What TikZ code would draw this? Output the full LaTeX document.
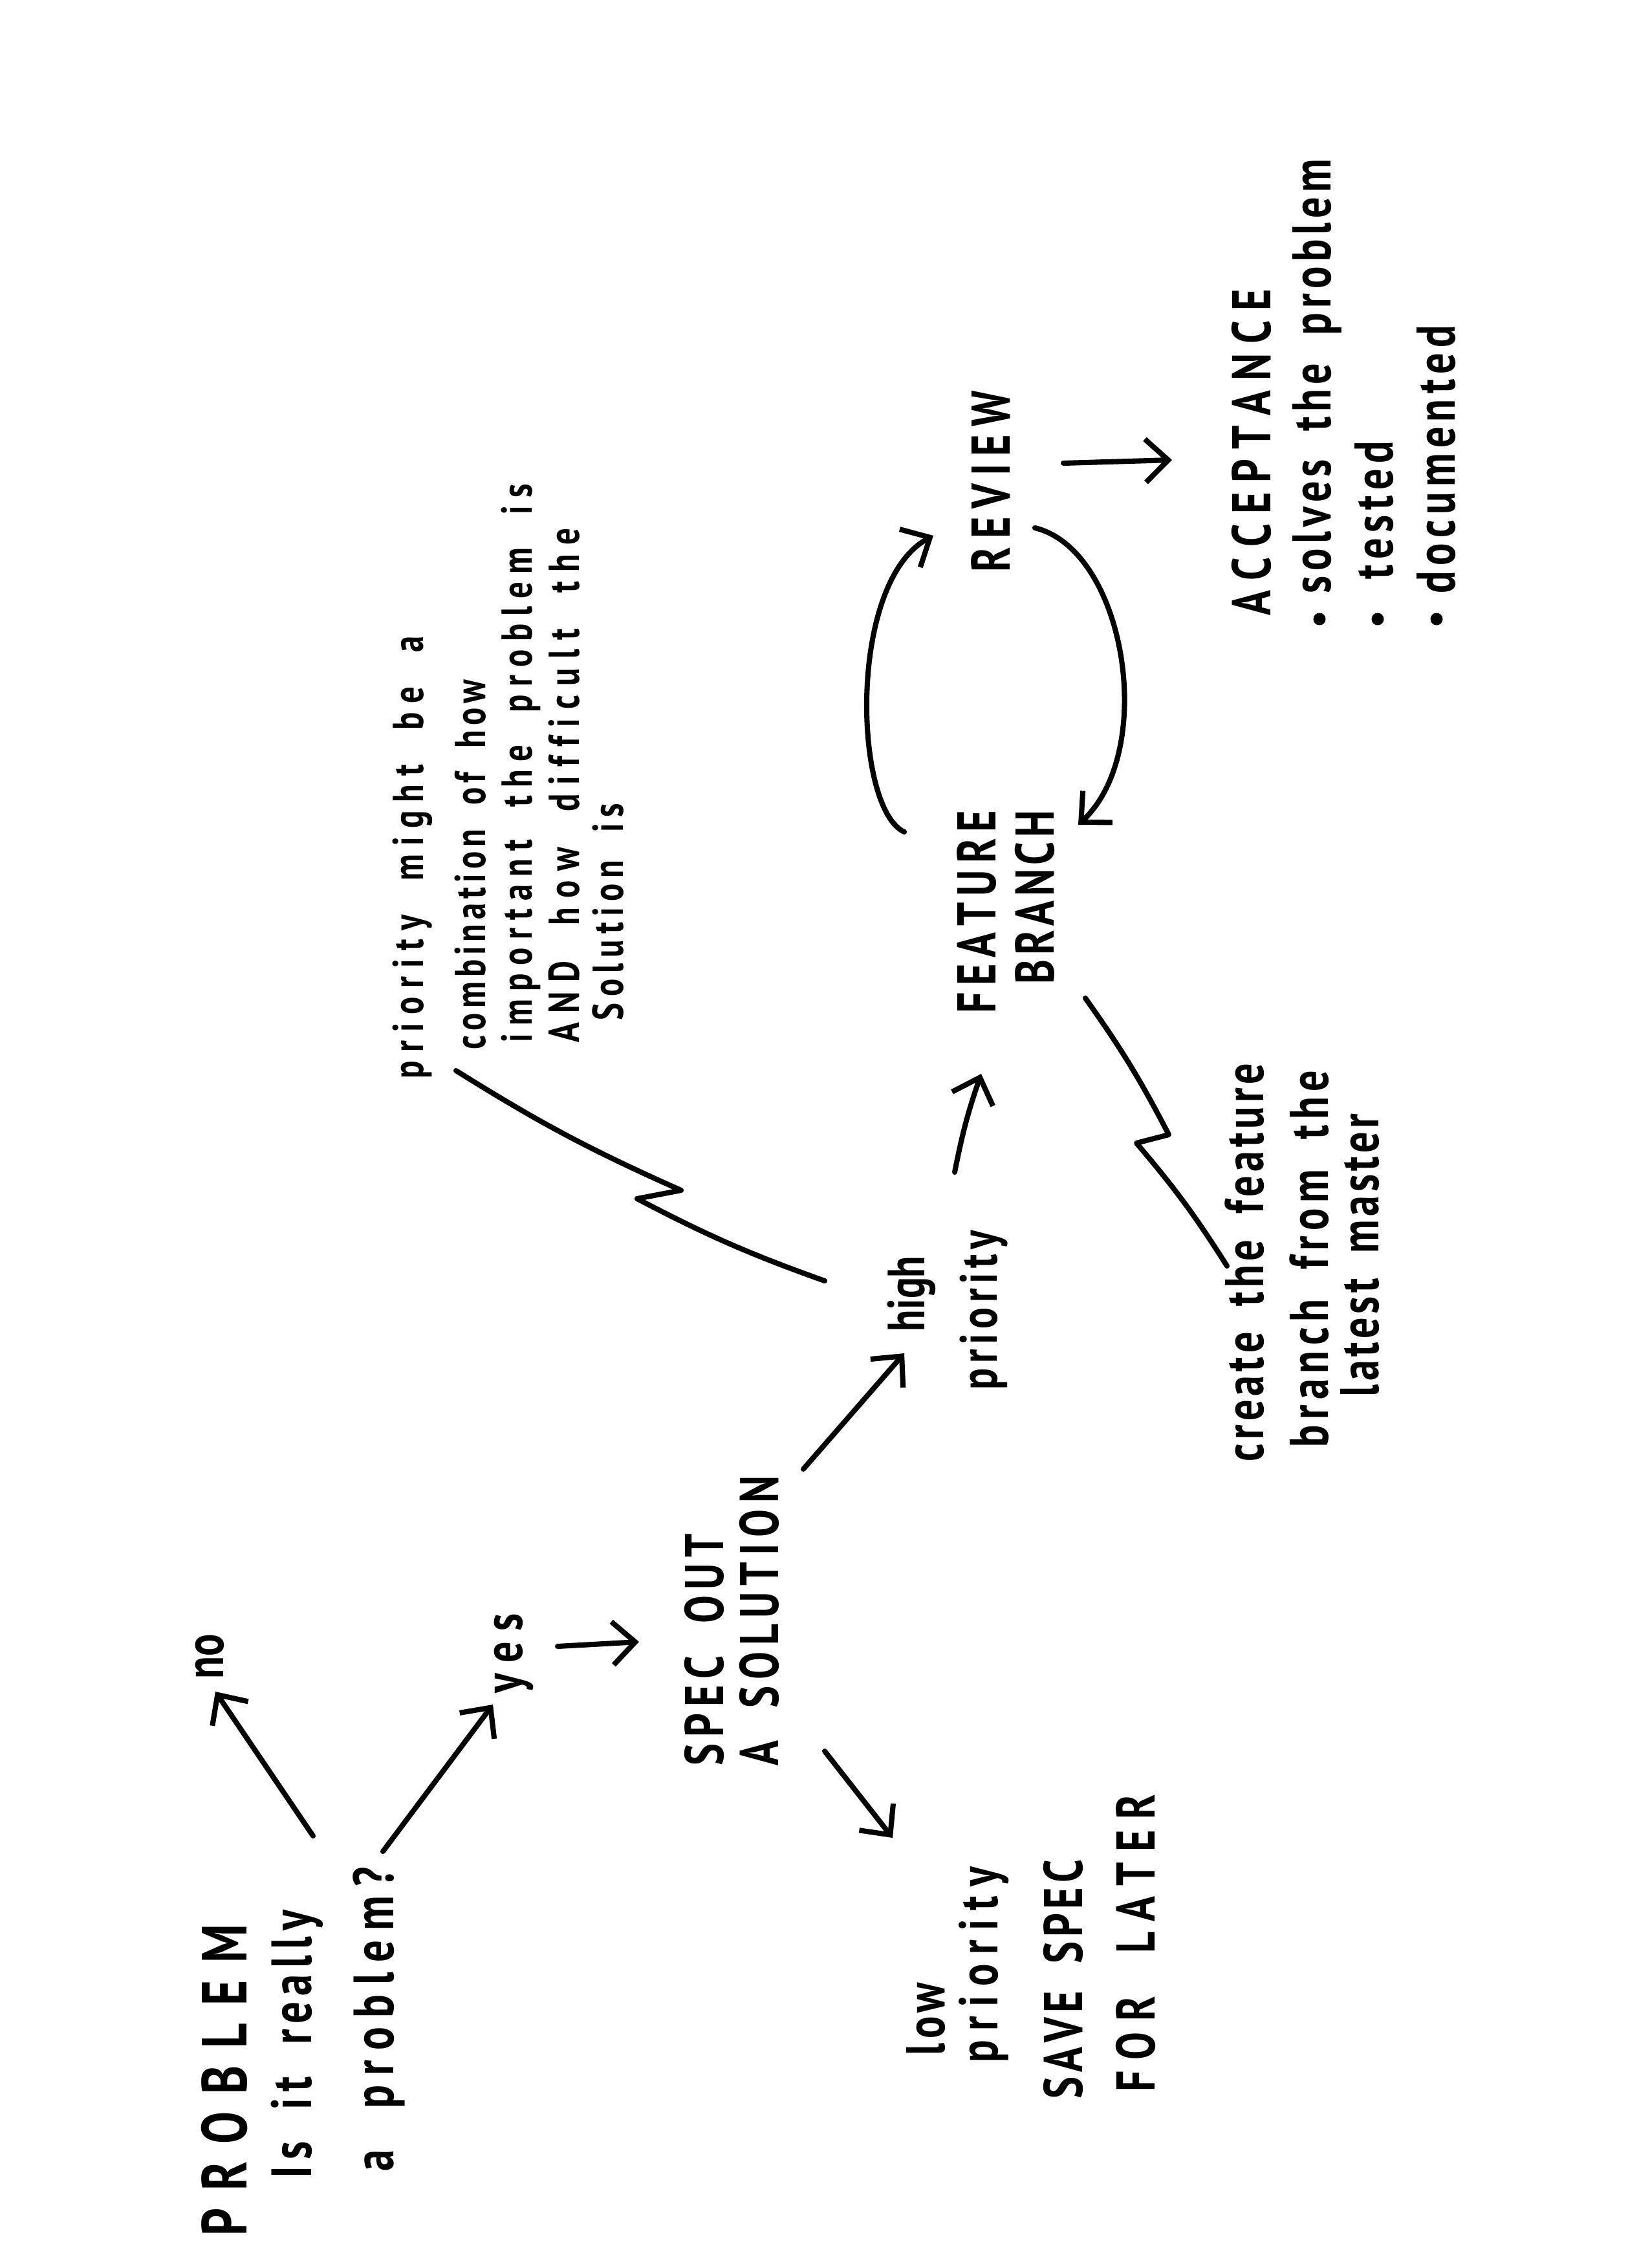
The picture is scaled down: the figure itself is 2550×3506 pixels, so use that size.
\documentclass[tikz,border=0pt]{standalone}
\usepackage{fontspec}
\usetikzlibrary{arrows.meta}
\newfontfamily\hand[FakeStretch=0.76,UprightFont=*,BoldFont=* Bold]{PT Sans}

% Set a line of handwriting at a fixed length: the letters are spread
% evenly, with wider gaps between the words.
\ExplSyntaxOn
\seq_new:N \l_hand_words_seq
\bool_new:N \l_hand_firstword_bool
\bool_new:N \l_hand_firstletter_bool
\cs_new_protected:Npn \hand_letters:n #1
 {
  \bool_set_true:N \l_hand_firstletter_bool
  \tl_map_inline:nn {#1}
   {
    \bool_if:NF \l_hand_firstletter_bool { \hskip 0pt plus 1fil }
    \bool_set_false:N \l_hand_firstletter_bool
    ##1
   }
 }
\NewDocumentCommand \spread { m m }
 {
  \seq_set_split:Nnn \l_hand_words_seq { ~ } {#2}
  \hbox to #1
   {
    \bool_set_true:N \l_hand_firstword_bool
    \seq_map_inline:Nn \l_hand_words_seq
     {
      \bool_if:NF \l_hand_firstword_bool { \hskip 0.3em plus 2.5fil }
      \bool_set_false:N \l_hand_firstword_bool
      \hand_letters:n {##1}
     }
   }
 }
\ExplSyntaxOff
% size, length in cm, text
\newcommand\hw[3]{{\fontsize{#1}{#1}\hand\bfseries\spread{#2cm}{#3}}}

\begin{document}
\begin{tikzpicture}[x=0.01cm,y=-0.01cm,
  line width=2.3pt, line cap=round, line join=round,
  say/.style={rotate=90, anchor=west, inner sep=0pt, outer sep=0pt},
  flow/.style={-{Straight Barb[length=10pt,width=19pt]}},
  dot/.style={circle, fill=black, inner sep=0pt, minimum size=0.19cm}]
\fill[white] (0,0) rectangle (2550,3506);
\useasboundingbox (0,0) rectangle (2550,3506);

% ---- question ----
\node[say] (problem)  at (347,3456) {\hw{28pt}{4.81}{PROBLEM}};
\node[say] (isit)     at (459,3367) {\hw{25pt}{4.14}{Is it really}};
\node[say] (aproblem) at (586,3356) {\hw{25pt}{4.70}{a problem?}};
\node[say] (no)       at (324,2595) {\hw{24pt}{0.67}{no}};
\node[say] (yes)      at (794,2617) {\hw{24pt}{1.23}{yes}};

% ---- spec ----
\node[say] (specout)   at (1089,2729) {\hw{24pt}{3.58}{SPEC OUT}};
\node[say] (asolution) at (1174,2729) {\hw{24pt}{4.47}{A SOLUTION}};

% ---- low priority ----
\node[say] (low)      at (1432,3177) {\hw{24pt}{1.12}{low}};
\node[say] (lowprio)  at (1521,3188) {\hw{24pt}{3.02}{priority}};
\node[say] (savespec) at (1644,3244) {\hw{24pt}{3.69}{SAVE SPEC}};
\node[say] (forlater) at (1756,3233) {\hw{24pt}{4.59}{FOR LATER}};

% ---- high priority ----
\node[say] (high)     at (1409,2058) {\hw{23pt}{1.14}{high}};
\node[say] (highprio) at (1521,2148) {\hw{23pt}{2.46}{priority}};

% ---- note on priority ----
\node[say] (note1) at (638,1667) {\hw{19pt}{6.83}{priority might be a}};
\node[say] (note2) at (727,1622) {\hw{19pt}{5.71}{combination of how}};
\node[say] (note3) at (805,1611) {\hw{19pt}{8.62}{important the problem is}};
\node[say] (note4) at (872,1611) {\hw{19pt}{7.94}{AND how difficult the}};
\node[say] (note5) at (940,1577) {\hw{19pt}{3.35}{Solution is}};

% ---- feature branch / review ----
\node[say] (feature) at (1510,1566) {\hw{24pt}{3.13}{FEATURE}};
\node[say] (branch)  at (1600,1521) {\hw{24pt}{2.68}{BRANCH}};
\node[say] (review)  at (1532,884)  {\hw{24pt}{2.80}{REVIEW}};

% ---- note on the branch ----
\node[say] (create)     at (1924,2259) {\hw{24pt}{6.15}{create the feature}};
\node[say] (branchfrom) at (2024,2237) {\hw{24pt}{5.82}{branch from the}};
\node[say] (latest)     at (2103,2159) {\hw{24pt}{4.37}{latest master}};

% ---- acceptance ----
\node[say] (acceptance) at (1935,951) {\hw{24pt}{5.04}{ACCEPTANCE}};
\node[say] (solves)     at (2036,917) {\hw{24pt}{6.71}{solves the problem}};
\node[say] (tested)     at (2125,895) {\hw{24pt}{2.13}{tested}};
\node[say] (documented) at (2221,917) {\hw{24pt}{4.14}{documented}};
\node[dot] (b1) at (2040,957) {};
\node[dot] (b2) at (2130,957) {};
\node[dot] (b3) at (2221,957) {};

% ---- connector ends ----
\coordinate (no-s)  at (484,2838);  \coordinate (no-e)  at (333,2615);
\coordinate (yes-s) at (592,2862);  \coordinate (yes-e) at (762,2635);
\coordinate (sp-s)  at (862,2545);  \coordinate (sp-e)  at (988,2538);
\coordinate (lo-s)  at (1275,2707); \coordinate (lo-e)  at (1380,2841);
\coordinate (hi-s)  at (1242,2271); \coordinate (hi-e)  at (1398,2092);
\coordinate (fb-s)  at (1476,1812); \coordinate (fb-e)  at (1517,1660);
\coordinate (up-s)  at (1398,1286); \coordinate (up-e)  at (1443,828);
\coordinate (dn-s)  at (1600,816);  \coordinate (dn-e)  at (1667,1275);
\coordinate (ac-s)  at (1644,716);  \coordinate (ac-e)  at (1812,711);
\coordinate (n-a) at (705,1655);  \coordinate (n-b) at (1053,1840);
\coordinate (n-c) at (985,1853);  \coordinate (n-d) at (1275,1980);
\coordinate (c-a) at (1678,1543); \coordinate (c-b) at (1807,1754);
\coordinate (c-c) at (1757,1767); \coordinate (c-d) at (1897,1957);

% ---- arrows ----
\draw[flow] (no-s) -- (no-e);
\draw[flow] (yes-s) -- (yes-e);
\draw[flow] (sp-s) -- (sp-e);
\draw[flow] (lo-s) -- (lo-e);
\draw[flow] (hi-s) -- (hi-e);
\draw[flow] (fb-s) to[bend left=4] (fb-e);
\draw[flow] (up-s) .. controls (1320,1250) and (1310,900) .. (up-e);
\draw[flow] (dn-s) .. controls (1740,850) and (1790,1160) .. (dn-e);
\draw[flow] (ac-s) -- (ac-e);

% ---- lightning leaders to the notes ----
\draw (n-a) to[bend right=4] (n-b) -- (n-c) to[bend right=4] (n-d);
\draw (c-a) to[bend left=4] (c-b) -- (c-c) to[bend left=4] (c-d);
\end{tikzpicture}
\end{document}
